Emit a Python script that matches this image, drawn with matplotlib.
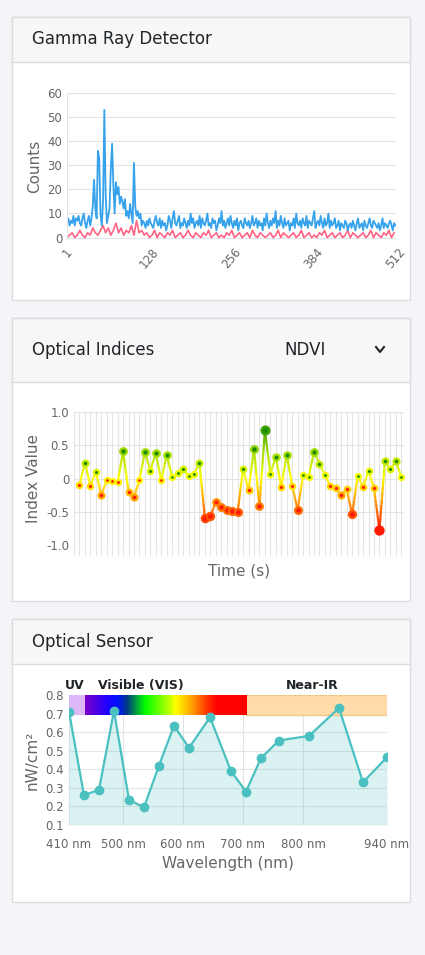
import numpy as np
import matplotlib
matplotlib.use("Agg")
import matplotlib.pyplot as plt
from matplotlib.patches import Rectangle
from matplotlib.lines import Line2D
from matplotlib.collections import LineCollection
from matplotlib.colors import LinearSegmentedColormap

# ---- gamma detector (blue sampled every 2 channels, red every 4)
gamma_blue = [
    6, 8, 5, 7, 6, 9, 5, 8, 7, 9, 6, 5, 8, 10, 6, 4, 7, 9, 5, 8,
    13, 24, 12, 8, 36, 33, 10, 5, 15, 53, 18, 6, 9, 12, 28, 39, 22, 10, 23, 18,
    21, 14, 17, 15, 12, 16, 9, 11, 8, 14, 10, 6, 31, 13, 9, 11, 8, 10, 5, 7,
    6, 4, 7, 5, 8, 6, 5, 4, 7, 9, 6, 5, 8, 4, 7, 5, 6, 3, 5, 9,
    7, 4, 8, 11, 6, 5, 7, 9, 4, 6, 5, 8, 6, 4, 7, 5, 10, 6, 8, 4,
    6, 7, 5, 9, 4, 8, 6, 5, 7, 10, 5, 6, 4, 8, 6, 7, 3, 5, 8, 6,
    11, 5, 7, 4, 6, 8, 5, 9, 6, 4, 7, 5, 8, 3, 6, 7, 5, 4, 8, 6,
    5, 7, 4, 6, 9, 5, 6, 8, 4, 7, 5, 6, 3, 8, 5, 10, 6, 4, 7, 5,
    8, 6, 11, 4, 7, 5, 9, 6, 4, 8, 5, 6, 7, 3, 6, 5, 8, 4, 10, 6,
    5, 7, 4, 8, 6, 5, 9, 4, 7, 6, 5, 8, 11, 4, 6, 7, 5, 9, 6, 4,
    8, 5, 6, 10, 4, 7, 5, 6, 8, 4, 5, 7, 3, 6, 5, 4, 7, 6, 3, 5,
    6, 4, 7, 5, 3, 6, 8, 4, 5, 6, 3, 7, 5, 4, 6, 8, 5, 4, 7, 6,
    5, 4, 6, 3, 5, 8, 4, 6, 5, 4, 6, 7, 5, 3, 6, 5,
]
gamma_red = [
    0, 1, 2, 0, 1, 3, 1, 0, 2, 1, 4, 2, 1, 3, 5, 2, 4, 1, 3, 6,
    2, 4, 1, 3, 2, 5, 1, 7, 2, 3, 1, 2, 0, 1, 3, 0, 2, 1, 0, 2,
    1, 3, 0, 1, 2, 0, 1, 3, 1, 0, 2, 1, 0, 2, 1, 3, 0, 1, 2, 0,
    1, 0, 2, 1, 3, 0, 1, 2, 0, 1, 2, 0, 3, 1, 0, 2, 1, 0, 1, 2,
    0, 1, 3, 0, 2, 1, 0, 1, 2, 0, 1, 3, 0, 1, 2, 0, 1, 0, 2, 1,
    3, 0, 1, 2, 0, 1, 2, 0, 1, 3, 0, 2, 1, 0, 1, 2, 0, 1, 3, 0,
    2, 1, 0, 2, 1, 3, 0, 2,
]

# ---- NDVI
ndvi = [
    -0.1, 0.24, -0.11, 0.1, -0.25, -0.03, -0.04, -0.06, 0.41, -0.2,
    -0.28, -0.02, 0.4, 0.12, 0.38, -0.03, 0.36, 0.02, 0.08, 0.15,
    0.04, 0.07, 0.23, -0.6, -0.56, -0.36, -0.43, -0.47, -0.49, -0.5,
    0.15, -0.18, 0.44, -0.42, 0.73, 0.07, 0.33, -0.13, 0.36, -0.11,
    -0.47, 0.05, 0.02, 0.4, 0.22, 0.06, -0.12, -0.15, -0.25, -0.16,
    -0.54, 0.04, -0.13, 0.12, -0.15, -0.77, 0.26, 0.14, 0.26, 0.03,
]

# ---- optical sensor
wavelengths = [410, 435, 460, 485, 510, 535, 560, 585, 610, 645, 680, 705, 730, 760, 810, 860, 900, 940]
irradiance = [0.71, 0.26, 0.29, 0.715, 0.235, 0.195, 0.42, 0.635, 0.515, 0.68,
              0.39, 0.28, 0.46, 0.555, 0.58, 0.73, 0.33, 0.465]
wl_ticks = [410, 500, 600, 700, 800, 940]

W, H = 425, 955
fig = plt.figure(figsize=(W / 100, H / 100), dpi=100)
fig.patch.set_facecolor("#f4f5f8")
TICK = "#666666"
GRID = "#e4e4e4"


def px_axes(l, t, r, b):
    return fig.add_axes([l / W, 1 - b / H, (r - l) / W, (b - t) / H])


def card(top, head_bottom, bottom, title):
    fig.patches.append(Rectangle((12 / W, 1 - bottom / H), 398 / W, (bottom - top) / H,
                                 transform=fig.transFigure, facecolor="white",
                                 edgecolor="#dcdcdc", lw=1, zorder=-2))
    fig.patches.append(Rectangle((12 / W, 1 - head_bottom / H), 398 / W, (head_bottom - top) / H,
                                 transform=fig.transFigure, facecolor="#f7f7f7",
                                 edgecolor="#dcdcdc", lw=1, zorder=-1))
    fig.text(32 / W, 1 - (top + head_bottom) / 2 / H, title, fontsize=12,
             color="#212529", va="center")


def style(ax):
    for s in ax.spines.values():
        s.set_visible(False)
    ax.tick_params(colors=TICK, labelsize=8.5, length=0)
    ax.set_facecolor("none")


card(17, 62, 300, "Gamma Ray Detector")
card(318, 382, 601, "Optical Indices")
card(619, 664, 902, "Optical Sensor")
fig.text(305 / W, 1 - 350 / H, "NDVI", fontsize=12, color="#212529", va="center", ha="center")
fig.add_artist(Line2D([376 / W, 380 / W, 384 / W], [1 - 347 / H, 1 - 352 / H, 1 - 347 / H],
                      transform=fig.transFigure, color="#212529", lw=1.5))

# gamma
ax1 = px_axes(67, 93, 396, 240)
style(ax1)
ch_blue = np.arange(len(gamma_blue)) * 2 + 1
ch_red = np.arange(len(gamma_red)) * 4 + 1
ax1.plot(ch_red, gamma_red, color="#ff6384", lw=1.2)
ax1.plot(ch_blue, gamma_blue, color="#36a2eb", lw=1.3)
ax1.set_xlim(1, 512)
ax1.set_ylim(-1, 60)
ax1.set_yticks(range(0, 61, 10))
ax1.set_xticks([1, 128, 256, 384, 512])
ax1.tick_params(axis="x", rotation=50, pad=4)
ax1.grid(axis="y", color=GRID, lw=0.8)
ax1.axvline(1, color=GRID, lw=0.8)
ax1.set_axisbelow(True)
ax1.set_ylabel("Counts", fontsize=11, color=TICK)

# NDVI
ax2 = px_axes(74, 412, 404, 545)
style(ax2)
cmap = LinearSegmentedColormap.from_list("ndvi", ["#ff1a00", "#ff8c00", "#ffff00", "#a8e000", "#3aa000"])
norm = plt.Normalize(-0.75, 0.75)
t = np.arange(len(ndvi)) + 1
segs, cols = [], []
for i in range(len(ndvi) - 1):
    xs = np.linspace(t[i], t[i + 1], 12)
    ys = np.linspace(ndvi[i], ndvi[i + 1], 12)
    for j in range(11):
        segs.append([(xs[j], ys[j]), (xs[j + 1], ys[j + 1])])
        cols.append(cmap(norm((ys[j] + ys[j + 1]) / 2)))
ax2.add_collection(LineCollection(segs, colors=cols, lw=1.6))
for x, v in zip(t, ndvi):
    face = "#1e8c00" if v > 0 else "#ff1a00"
    ax2.plot(x, v, "o", ms=3.5 + 3 * abs(v), mfc=face, mec=cmap(norm(v)), mew=1.6, zorder=3)
ax2.set_xlim(0, len(ndvi) + 0.5)
ax2.set_ylim(-1.0, 1.0)
ax2.set_yticks([-1.0, -0.5, 0, 0.5, 1.0])
ax2.set_yticklabels(["-1.0", "-0.5", "0", "0.5", "1.0"])
ax2.set_xticks(np.arange(0, len(ndvi) + 1))
ax2.set_xticklabels([])
ax2.tick_params(axis="x", length=8, color=GRID, direction="out")
ax2.grid(color=GRID, lw=0.8)
ax2.set_axisbelow(True)
ax2.set_ylabel("Index Value", fontsize=11, color=TICK)
ax2.set_xlabel("Time (s)", fontsize=11, color=TICK, labelpad=2)

# optical sensor
ax3 = px_axes(69, 695, 387, 825)
style(ax3)
ax3.fill_between(wavelengths, irradiance, 0.1, color="#4bc0c0", alpha=0.2, lw=0)
ax3.plot(wavelengths, irradiance, "-o", color="#4bc0c0", ms=6, lw=1.6)
ax3.set_xticks(wl_ticks)
ax3.set_xticklabels([f"{w} nm" for w in wl_ticks])
ax3.set_yticks(np.arange(0.1, 0.81, 0.1))
ax3.set_yticklabels([f"{v:.1f}" for v in np.arange(0.1, 0.81, 0.1)])
ax3.tick_params(axis="x", pad=9)
ax3.grid(color=GRID, lw=0.8)
ax3.set_axisbelow(True)
ax3.add_patch(Rectangle((410, 0.69), 26, 0.11, color="#dcb8f8", zorder=1, lw=0))
ax3.add_patch(Rectangle((705, 0.69), 235, 0.11, facecolor="#ffdcaa", edgecolor="#f2c88a", zorder=1))
spec = LinearSegmentedColormap.from_list("spec", [
    (0.0, "#7a00c8"), (0.13, "#2000ff"), (0.2, "#0010ff"), (0.26, "#003c80"),
    (0.37, "#00ff00"), (0.5, "#a0ff00"), (0.56, "#ffff00"), (0.66, "#ffa000"),
    (0.76, "#ff3000"), (0.82, "#ff0000"), (1.0, "#ff0000")])
ax3.imshow(np.linspace(0, 1, 300)[None, :], cmap=spec, extent=(436, 705, 0.69, 0.8),
           aspect="auto", zorder=1)
ax3.set_xlim(410, 940)
ax3.set_ylim(0.1, 0.8)
for x, lab in [(420, "UV"), (530, "Visible (VIS)"), (815, "Near-IR")]:
    ax3.text(x, 0.815, lab, fontsize=9, fontweight="bold", color="#212529", ha="center", va="bottom")
ax3.set_ylabel("nW/cm²", fontsize=11, color=TICK)
ax3.set_xlabel("Wavelength (nm)", fontsize=11, color=TICK)

fig.savefig("out.png", dpi=100, facecolor=fig.get_facecolor())
